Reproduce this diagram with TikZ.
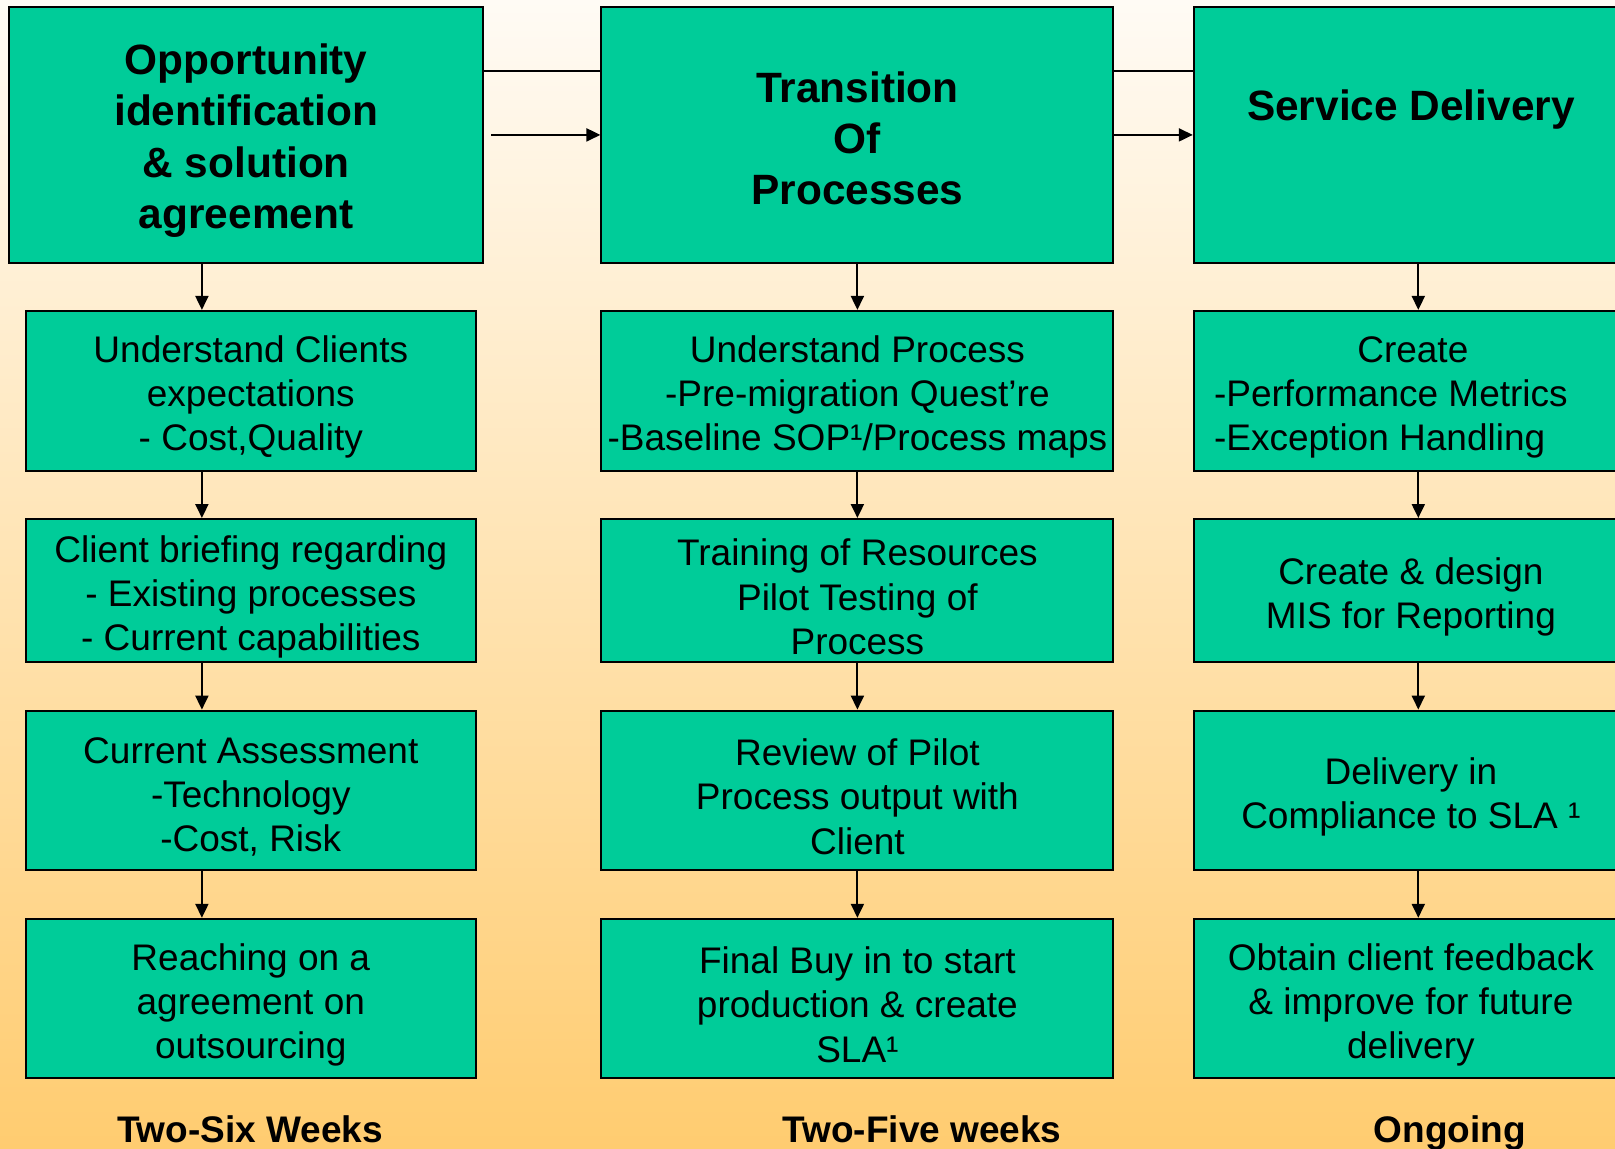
\documentclass[tikz,border=0pt]{standalone}
\usepackage{fontspec}
\setmainfont{Liberation Sans}
\usepackage{xcolor}
\usepackage{tikz}
\usetikzlibrary{arrows.meta}

\definecolor{boxgreen}{RGB}{0,204,153}
\definecolor{bgtop}{RGB}{255,251,245}
\definecolor{bgbottom}{RGB}{255,204,112}
\newcommand{\lift}{\rule{0pt}{19.5pt}}

\begin{document}
\begin{tikzpicture}[x=0.5pt,y=-0.5pt,
  phase/.style={draw,line width=1pt,fill=boxgreen,shape=rectangle,inner sep=0pt,
    minimum height=127.7pt,align=center,font=\fontsize{21.2}{25.6}\selectfont\bfseries},
  task/.style={draw,line width=1pt,fill=boxgreen,shape=rectangle,inner sep=0pt,
    align=center,font=\fontsize{18.5}{22.1}\selectfont},
  flow/.style={line width=1pt,-{Triangle[length=7pt,width=6.5pt]}},
  period/.style={anchor=base,font=\fontsize{18.5}{22}\selectfont\bfseries}]

\useasboundingbox[top color=bgtop,bottom color=bgbottom] (0,0) rectangle (1615,1148);

% phases
\node (phasea) at (246.2,134.9) [phase,minimum width=236.9pt] {\rule{0pt}{21pt}Opportunity\\identification\\\& solution\\agreement};
\node (phaseb) at (857.4,134.9) [phase,minimum width=256pt] {\rule{0pt}{19pt}Transition\\Of\\Processes};
\node (phasec) at (1410.9,134.9) [phase,minimum width=217.1pt] {\rule{0pt}{20pt}Service Delivery\\[9pt]\mbox{}};

% first column
\node (taska1) at (250.8,390.8) [task,minimum width=225pt,minimum height=79.9pt] {\lift Understand Clients\\expectations\\- Cost,Quality};
\node (taska2) at (250.8,590.7) [task,minimum width=225pt,minimum height=71.7pt] {\lift Client briefing regarding\\- Existing processes\\- Current capabilities};
\node (taska3) at (250.8,790.5) [task,minimum width=225pt,minimum height=79.9pt] {\lift Current Assessment\\-Technology\\-Cost, Risk};
\node (taska4) at (250.8,998.6) [task,minimum width=225pt,minimum height=79.8pt] {\lift Reaching on a\\agreement on\\outsourcing};

% second column
\node (taskb1) at (857.4,390.8) [task,minimum width=256pt,minimum height=79.9pt] {\lift Understand Process\\-Pre-migration Quest’re\\-Baseline SOP¹/Process maps};
\node (taskb2) at (857.4,590.7) [task,minimum width=256pt,minimum height=71.7pt] {\lift Training of Resources\\Pilot Testing of\\Process};
\node (taskb3) at (857.4,790.5) [task,minimum width=256pt,minimum height=79.9pt] {\lift Review of Pilot\\Process output with\\Client};
\node (taskb4) at (857.4,998.6) [task,minimum width=256pt,minimum height=79.8pt] {\lift Final Buy in to start\\production \& create\\SLA¹};

% third column
\node (taskc1) at (1410.9,390.8) [task,minimum width=217.1pt,minimum height=79.9pt,align=left] {\lift\hspace*{71.6pt}Create\\-Performance Metrics\rule{20pt}{0pt}\\-Exception Handling};
\node (taskc2) at (1410.9,590.7) [task,minimum width=217.1pt,minimum height=71.7pt] {\lift Create \& design\\MIS for Reporting};
\node (taskc3) at (1410.9,790.5) [task,minimum width=217.1pt,minimum height=79.9pt] {\lift Delivery in\\Compliance to SLA ¹};
\node (taskc4) at (1410.9,998.6) [task,minimum width=217.1pt,minimum height=79.8pt] {\lift Obtain client feedback\\\& improve for future\\delivery};

% durations
\node (perioda) at (250,1142) [period] {Two-Six Weeks};
\node (periodb) at (922,1142) [period] {Two-Five weeks};
\node (periodc) at (1450,1142) [period] {Ongoing};

\coordinate (topline) at (0,71);
\coordinate (downa) at (201.9,0);
\coordinate (downb) at (857.4,0);
\coordinate (downc) at (1418.3,0);

\draw [line width=1pt] (phasea.east |- topline) -- (phaseb.west |- topline);
\draw [line width=1pt] (phaseb.east |- topline) -- (phasec.west |- topline);
\draw [flow] ([xshift=3.5pt]phasea.east) -- (phaseb.west);
\draw [flow] (phaseb.east) -- (phasec.west);

\draw [flow] (phasea.south -| downa) -- (taska1.north -| downa);
\draw [flow] (taska1.south -| downa) -- (taska2.north -| downa);
\draw [flow] (taska2.south -| downa) -- (taska3.north -| downa);
\draw [flow] (taska3.south -| downa) -- (taska4.north -| downa);

\draw [flow] (phaseb.south -| downb) -- (taskb1.north -| downb);
\draw [flow] (taskb1.south -| downb) -- (taskb2.north -| downb);
\draw [flow] (taskb2.south -| downb) -- (taskb3.north -| downb);
\draw [flow] (taskb3.south -| downb) -- (taskb4.north -| downb);

\draw [flow] (phasec.south -| downc) -- (taskc1.north -| downc);
\draw [flow] (taskc1.south -| downc) -- (taskc2.north -| downc);
\draw [flow] (taskc2.south -| downc) -- (taskc3.north -| downc);
\draw [flow] (taskc3.south -| downc) -- (taskc4.north -| downc);
\end{tikzpicture}
\end{document}
